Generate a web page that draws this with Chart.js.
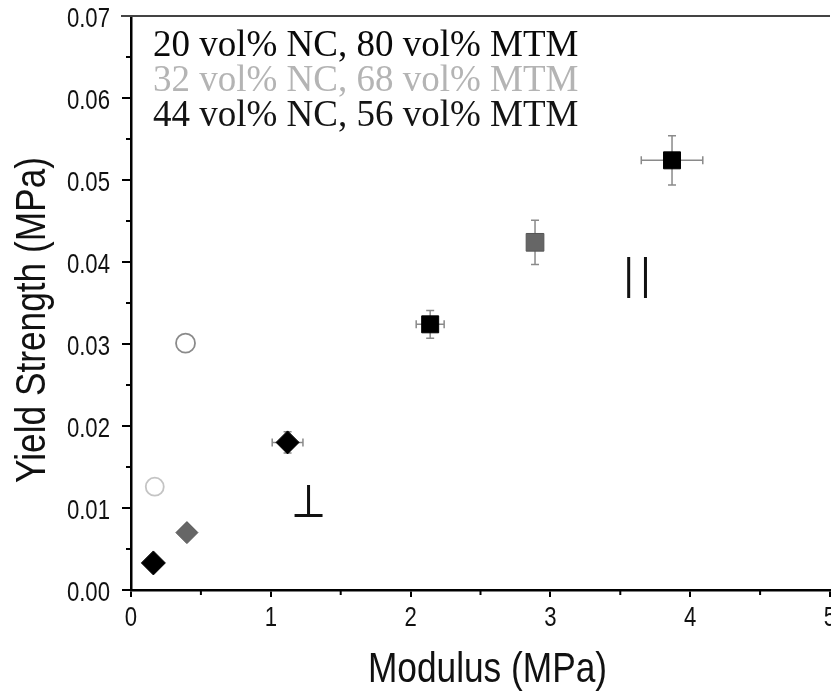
<!DOCTYPE html>
<html>
<head>
<meta charset="utf-8">
<style>
  html, body { margin: 0; padding: 0; background: #fff; overflow: hidden; }
  canvas { display: block; }
</style>
</head>
<body>
<canvas id="chart" width="860" height="694"></canvas>

<script src="https://cdn.jsdelivr.net/npm/chart.js"></script>
<script>
  // series (modulus MPa, yield strength MPa)
  const seriesNames = ['20 vol% NC, 80 vol% MTM', '32 vol% NC, 68 vol% MTM', '44 vol% NC, 56 vol% MTM'];
  const seriesColors = ['#0a0a0a', '#b4b4b4', '#141414'];

  const nc20X = [0.16, 2.14];
  const nc20Y = [0.0033, 0.0324];
  const nc20XErr = [0, 0.10];
  const nc20YErr = [0, 0.0017];

  const nc32X = [0.40, 2.89];
  const nc32Y = [0.0070, 0.0424];
  const nc32XErr = [0, 0];
  const nc32YErr = [0, 0.0027];

  const nc32OpenX = [0.17, 0.39];
  const nc32OpenY = [0.0126, 0.0301];

  const nc44X = [1.12, 3.87];
  const nc44Y = [0.0180, 0.0524];
  const nc44XErr = [0.11, 0.22];
  const nc44YErr = [0.0013, 0.0030];

  const xTicks = [0, 1, 2, 3, 4, 5];
  const yTicks = [0, 0.01, 0.02, 0.03, 0.04, 0.05, 0.06, 0.07];
  const xTitle = 'Modulus (MPa)';
  const yTitle = 'Yield Strength (MPa)';

  // regime marks "I" and "II"
  const regimeIX = 1.27, regimeIY = [0.0091, 0.0128], regimeIBase = [1.17, 1.37];
  const regimeIIX = [3.56, 3.68], regimeIIY = [0.0356, 0.0406];

  const sans = "'Liberation Sans', Arial, sans-serif";
  const squeeze = 0.82; // the original lettering is horizontally condensed

  function pts(xs, ys) {
    return xs.map((x, i) => ({ x: x, y: ys[i] }));
  }

  function squeezedText(ctx, text, x, y, align, baseline, rot) {
    ctx.save();
    ctx.translate(x, y);
    if (rot) ctx.rotate(rot);
    ctx.scale(squeeze, 1);
    ctx.textAlign = align;
    ctx.textBaseline = baseline;
    ctx.fillText(text, 0, 0);
    ctx.restore();
  }

  const errSets = [
    [nc20X, nc20Y, nc20XErr, nc20YErr],
    [nc32X, nc32Y, nc32XErr, nc32YErr],
    [nc44X, nc44Y, nc44XErr, nc44YErr],
  ];

  const decor = {
    id: 'decor',
    beforeDatasetsDraw(chart) {
      const ctx = chart.ctx;
      const xs = chart.scales.x, ys = chart.scales.y;
      ctx.save();
      // error bars
      ctx.strokeStyle = '#8a8a8a';
      ctx.lineWidth = 1.5;
      errSets.forEach(([X, Y, XE, YE]) => {
        X.forEach((x, i) => {
          const px = xs.getPixelForValue(x), py = ys.getPixelForValue(Y[i]);
          ctx.beginPath();
          if (XE[i] > 0) {
            const l = xs.getPixelForValue(x - XE[i]), r = xs.getPixelForValue(x + XE[i]);
            ctx.moveTo(l, py); ctx.lineTo(r, py);
            ctx.moveTo(l, py - 4); ctx.lineTo(l, py + 4);
            ctx.moveTo(r, py - 4); ctx.lineTo(r, py + 4);
          }
          if (YE[i] > 0) {
            const t = ys.getPixelForValue(Y[i] + YE[i]), b = ys.getPixelForValue(Y[i] - YE[i]);
            ctx.moveTo(px, t); ctx.lineTo(px, b);
            ctx.moveTo(px - 4, t); ctx.lineTo(px + 4, t);
            ctx.moveTo(px - 4, b); ctx.lineTo(px + 4, b);
          }
          ctx.stroke();
        });
      });
      ctx.restore();
    },
    afterDraw(chart) {
      const ctx = chart.ctx;
      const a = chart.chartArea;
      const xs = chart.scales.x, ys = chart.scales.y;
      ctx.save();
      // top frame line
      ctx.strokeStyle = '#444';
      ctx.lineWidth = 2;
      ctx.beginPath();
      ctx.moveTo(a.left - 10, a.top);
      ctx.lineTo(a.right, a.top);
      ctx.stroke();
      // minor ticks
      ctx.strokeStyle = '#000';
      ctx.lineWidth = 2;
      ctx.beginPath();
      for (let i = 0; i < yTicks.length - 1; i++) {
        const py = ys.getPixelForValue((yTicks[i] + yTicks[i + 1]) / 2);
        ctx.moveTo(a.left - 5, py); ctx.lineTo(a.left, py);
      }
      for (let i = 0; i < xTicks.length - 1; i++) {
        const px = xs.getPixelForValue((xTicks[i] + xTicks[i + 1]) / 2);
        ctx.moveTo(px, a.bottom); ctx.lineTo(px, a.bottom + 5);
      }
      ctx.stroke();
      // regime marks
      ctx.lineWidth = 3;
      ctx.strokeStyle = '#111';
      ctx.beginPath();
      const ix = xs.getPixelForValue(regimeIX);
      const iyb = ys.getPixelForValue(regimeIY[0]);
      ctx.moveTo(ix, ys.getPixelForValue(regimeIY[1])); ctx.lineTo(ix, iyb);
      ctx.moveTo(xs.getPixelForValue(regimeIBase[0]), iyb); ctx.lineTo(xs.getPixelForValue(regimeIBase[1]), iyb);
      regimeIIX.forEach(x => {
        const px = xs.getPixelForValue(x);
        ctx.moveTo(px, ys.getPixelForValue(regimeIIY[1])); ctx.lineTo(px, ys.getPixelForValue(regimeIIY[0]));
      });
      ctx.stroke();

      // tick labels and axis titles (condensed sans)
      ctx.fillStyle = '#111';
      ctx.font = '27px ' + sans;
      xTicks.forEach(v => {
        squeezedText(ctx, String(v), xs.getPixelForValue(v), a.bottom + 29, 'center', 'middle');
      });
      yTicks.forEach(v => {
        squeezedText(ctx, v.toFixed(2), a.left - 21, ys.getPixelForValue(v) + 4, 'right', 'middle');
      });
      ctx.font = '43px ' + sans;
      squeezedText(ctx, xTitle, (a.left + a.right) / 2 + 7, a.bottom + 92, 'center', 'alphabetic');
      squeezedText(ctx, yTitle, 45, (a.top + a.bottom) / 2 + 17, 'center', 'alphabetic', -Math.PI / 2);

      // legend text
      ctx.font = "37px 'Liberation Serif', 'Times New Roman', serif";
      ctx.textBaseline = 'alphabetic';
      ctx.textAlign = 'left';
      seriesNames.forEach((name, i) => {
        ctx.fillStyle = seriesColors[i];
        ctx.fillText(name, a.left + 22, a.top + 40 + i * 35);
      });
      ctx.restore();
    }
  };

  new Chart(document.getElementById('chart'), {
    type: 'scatter',
    data: {
      datasets: [
        {
          label: seriesNames[0],
          data: pts(nc20X, nc20Y),
          pointStyle: ['rectRot', 'rect'],
          pointRadius: [12, 12],
          backgroundColor: '#000',
          borderColor: '#000',
          borderWidth: 1,
        },
        {
          label: seriesNames[1],
          data: pts(nc32X, nc32Y),
          pointStyle: ['rectRot', 'rect'],
          pointRadius: [11, 12.5],
          backgroundColor: '#666',
          borderColor: '#555',
          borderWidth: 1,
        },
        {
          label: seriesNames[1] + ' (open)',
          data: pts(nc32OpenX, nc32OpenY),
          pointStyle: 'circle',
          pointRadius: [9, 9.5],
          backgroundColor: '#fff',
          borderColor: ['#c4c4c4', '#8a8a8a'],
          borderWidth: 1.8,
        },
        {
          label: seriesNames[2],
          data: pts(nc44X, nc44Y),
          pointStyle: ['rectRot', 'rect'],
          pointRadius: [11.5, 12],
          backgroundColor: '#000',
          borderColor: '#000',
          borderWidth: 1,
        },
      ]
    },
    plugins: [decor],
    options: {
      responsive: false,
      animation: false,
      devicePixelRatio: 1,
      layout: {
        padding: { left: 0, right: 30, top: 16, bottom: 0 }
      },
      plugins: {
        legend: { display: false },
        tooltip: { enabled: false },
      },
      scales: {
        x: {
          type: 'linear',
          min: 0,
          max: 5,
          afterBuildTicks: (s) => { s.ticks = xTicks.map(v => ({ value: v })); },
          afterFit: (s) => { s.height = 104; },
          border: { color: '#000', width: 2.5 },
          grid: { drawOnChartArea: false, drawTicks: true, tickLength: 7, color: '#000', lineWidth: 2 },
          ticks: { display: false },
          title: { display: false },
        },
        y: {
          type: 'linear',
          min: 0,
          max: 0.07,
          afterBuildTicks: (s) => { s.ticks = yTicks.map(v => ({ value: v })); },
          afterFit: (s) => { s.width = 131; },
          border: { color: '#000', width: 2.5 },
          grid: { drawOnChartArea: false, drawTicks: true, tickLength: 9, color: '#000', lineWidth: 2 },
          ticks: { display: false },
          title: { display: false },
        },
      },
    },
  });
</script>
</body>
</html>
